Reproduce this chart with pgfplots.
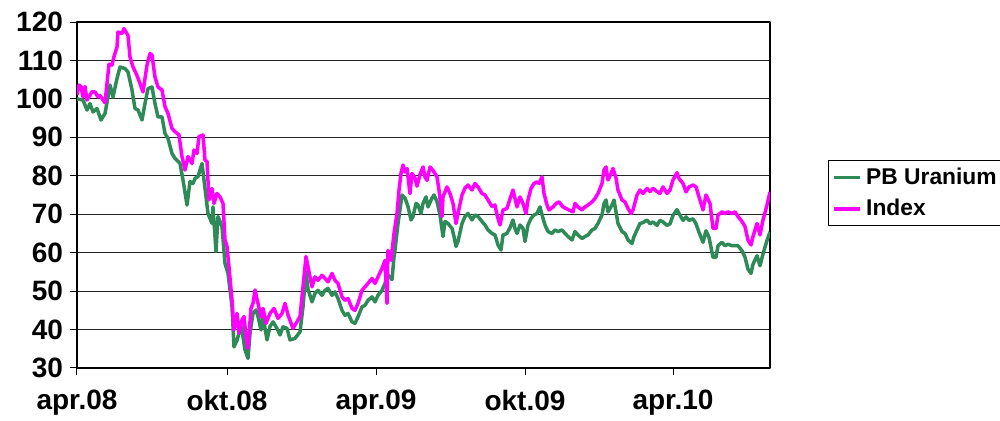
\documentclass[border=0pt]{standalone}
\usepackage{fontspec}
\setmainfont{Liberation Sans}
\usepackage{pgfplots}
\pgfplotsset{compat=1.18}
\definecolor{pbgreen}{RGB}{46,139,87}
\definecolor{idxmag}{RGB}{255,0,255}
\begin{document}
\begin{tikzpicture}[x=1pt,y=1pt]
\path[use as bounding box] (0,0) rectangle (500,210.5);
\begin{axis}[
  at={(38.5pt,26.5pt)}, anchor=south west,
  scale only axis, width=346.5pt, height=173pt,
  xmin=0, xmax=693, ymin=30, ymax=120,
  ytick={30,40,...,120},
  xtick={0,150,299,448,596},
  xticklabels={apr.08,okt.08,apr.09,okt.09,apr.10},
  xtick pos=left, ytick pos=left,
  tick align=outside, major tick length=3.5pt,
  tick style={black, line width=0.5pt},
  axis line style={black, line width=0.6pt},
  ymajorgrids, grid style={black!85, line width=0.5pt},
  ticklabel style={font=\bfseries\fontsize{14}{14}\selectfont},
  xticklabel style={yshift=-6.5pt, inner ysep=1pt},
  /pgf/number format/assume math mode=true,
  legend style={at={(1.084,0.601)}, anchor=north west, draw=black, line width=0.5pt,
    font=\bfseries\fontsize{11.4}{13}\selectfont, inner xsep=2pt, inner ysep=1.5pt, row sep=2pt,
    nodes={inner xsep=2pt}},
  legend cell align=left,
  legend image code/.code={\draw[#1] (0pt,0pt) -- (13pt,0pt);},
  line join=round,
]
\addplot[pbgreen, line width=1.75pt, mark=none] coordinates {
(0,100.0)(6,99.7)(10,97.1)(13,98.8)(16,96.6)(20,97.5)(24,94.5)(28,96.2)(31,100.5)(33,103.6)
(36,100.5)(40,105.3)(43,108.3)(48,107.9)(51,107.0)(55,102.3)(58,97.5)(61,97.1)(65,94.5)(68,98.8)
(71,102.7)(75,103.1)(78,98.8)(81,95.3)(85,95.3)(88,91.0)(91,89.7)(95,85.8)(98,84.5)(103,83.2)
(106,78.9)(110,72.4)(113,78.5)(116,78.0)(118,79.3)(121,79.8)(125,83.2)(128,76.7)(131,70.2)(135,67.6)
(136,71.9)(139,60.3)(141,69.4)(145,66.8)(148,57.2)(151,54.6)(155,46.0)(157,35.5)(160,37.2)(162,39.0)
(165,40.7)(166,38.1)(168,34.7)(171,32.5)(173,39.0)(176,44.2)(179,45.1)(181,43.4)(184,39.9)(186,43.4)
(190,37.3)(193,40.8)(196,42.0)(200,40.3)(203,38.6)(206,40.7)(210,40.3)(213,37.3)(218,37.7)(223,39.4)
(226,45.9)(229,55.0)(231,50.5)(235,47.2)(238,49.4)(241,50.2)(245,48.9)(248,50.2)(251,50.7)(255,48.9)
(258,49.8)(261,48.1)(265,45.0)(268,43.7)(271,44.2)(275,42.0)(278,41.6)(281,43.3)(285,45.9)(288,46.3)
(291,47.6)(295,48.5)(298,47.2)(301,48.9)(305,50.2)(308,52.0)(311,54.1)(315,53.0)(317,58.9)(318,60.7)
(321,67.6)(325,75.0)(328,74.2)(331,72.0)(334,68.5)(336,69.4)(339,72.8)(341,72.4)(344,70.2)(346,72.8)
(349,74.5)(351,71.9)(355,74.2)(357,75.0)(360,73.3)(363,69.8)(366,64.2)(368,68.1)(371,67.6)(375,66.3)
(377,64.2)(379,61.6)(381,62.9)(385,67.6)(388,69.4)(391,70.2)(395,68.5)(398,69.8)(401,69.4)(405,68.1)
(408,67.2)(411,65.9)(415,65.0)(418,64.6)(421,62.0)(424,60.7)(426,64.6)(430,65.0)(433,66.5)(436,68.5)
(438,66.3)(440,65.0)(443,67.2)(446,66.3)(448,62.9)(451,67.2)(454,68.9)(457,69.8)(460,70.2)(463,71.9)
(466,68.9)(468,67.2)(471,65.5)(475,65.0)(478,65.9)(481,65.5)(485,65.9)(488,65.0)(491,64.2)(495,63.3)
(498,65.5)(501,64.6)(505,63.7)(508,64.2)(511,64.6)(515,65.9)(518,66.3)(521,67.6)(525,69.8)(527,72.8)
(529,73.7)(531,70.6)(535,72.4)(537,73.7)(539,70.6)(541,67.6)(545,65.5)(548,65.0)(551,63.3)(555,62.4)
(557,64.2)(560,65.9)(563,67.6)(566,67.8)(570,68.5)(573,67.5)(576,68.0)(580,67.1)(583,68.4)(586,68.0)
(590,67.1)(593,67.5)(596,69.7)(600,71.2)(602,70.2)(606,68.4)(609,69.3)(612,68.4)(616,68.8)(619,67.5)
(622,65.3)(626,62.7)(629,65.7)(632,64.0)(636,58.8)(639,58.8)(641,61.8)(645,62.7)(648,61.8)(651,62.2)
(655,61.8)(658,61.8)(661,61.8)(665,60.5)(668,58.8)(671,55.7)(674,54.6)(676,57.0)(680,59.2)(683,56.6)
(686,59.7)(690,63.2)(693,65.4)
};
\addlegendentry{PB Uranium}
\addplot[idxmag, line width=1.75pt, mark=none] coordinates {
(0,101.0)(2,103.6)(4,103.2)(6,100.5)(8,103.2)(10,99.7)(15,101.8)(18,101.8)(21,100.5)(23,100.9)
(26,99.7)(28,99.0)(32,109.0)(35,108.8)(37,111.0)(40,113.5)(41,117.4)(45,117.0)(47,118.3)(51,116.5)
(53,110.9)(56,108.3)(60,106.1)(63,104.0)(66,101.8)(70,108.8)(73,111.8)(75,111.4)(78,105.7)(81,103.1)
(85,102.3)(88,98.0)(91,96.2)(95,92.3)(98,91.5)(102,90.6)(105,85.0)(108,81.5)(111,85.0)(115,83.2)
(117,86.7)(120,85.8)(122,90.2)(126,90.6)(128,84.1)(130,83.7)(132,73.7)(135,76.7)(137,72.8)(140,75.4)
(143,74.5)(146,72.8)(148,63.3)(150,61.6)(152,56.3)(155,47.7)(157,39.9)(160,44.2)(162,39.0)(165,42.5)
(167,43.4)(169,38.2)(171,35.1)(174,45.5)(176,46.8)(178,50.3)(181,46.8)(184,43.3)(186,45.5)(189,41.6)
(193,44.2)(197,45.5)(201,42.9)(205,44.2)(208,46.8)(211,43.8)(216,40.3)(220,42.0)(223,43.4)(226,51.1)
(229,59.0)(232,55.0)(235,51.1)(238,53.7)(241,52.8)(245,54.1)(248,53.3)(251,52.4)(255,54.6)(258,52.8)
(261,52.0)(265,48.5)(268,47.6)(271,48.1)(275,45.5)(278,45.0)(281,46.8)(285,50.2)(288,51.1)(291,52.0)
(295,53.3)(298,52.0)(301,53.7)(305,55.9)(308,58.0)(310,46.8)(311,60.6)(314,58.0)(317,65.0)(320,70.2)
(322,76.2)(324,80.6)(326,82.8)(328,81.0)(330,81.9)(333,75.4)(335,80.6)(338,79.4)(340,77.3)(343,80.3)
(346,82.3)(348,79.7)(350,78.8)(353,82.3)(356,81.4)(360,79.7)(362,76.3)(365,69.4)(366,74.5)(370,77.1)
(373,75.4)(376,72.8)(379,67.6)(381,70.2)(385,75.0)(388,76.8)(391,77.6)(395,76.3)(398,78.0)(401,77.1)
(405,75.4)(408,75.0)(411,73.7)(415,72.0)(418,72.4)(420,69.8)(423,67.2)(426,71.1)(430,71.5)(433,74.0)
(436,76.3)(438,74.1)(440,71.9)(443,74.5)(446,72.8)(449,70.2)(451,73.7)(454,76.7)(457,78.0)(460,78.4)
(462,78.0)(465,79.7)(467,75.4)(470,72.4)(472,71.1)(476,71.9)(479,72.8)(482,73.2)(486,71.9)(489,71.5)
(492,71.1)(496,70.6)(498,72.8)(501,71.9)(505,71.1)(508,71.9)(511,72.4)(515,73.2)(518,74.1)(521,75.4)
(525,78.0)(527,81.5)(529,82.3)(531,78.9)(534,80.6)(536,81.9)(539,79.4)(541,76.3)(545,73.7)(548,73.2)
(551,71.5)(554,70.2)(556,71.1)(560,75.0)(563,76.3)(566,75.4)(570,76.7)(573,75.9)(576,76.7)(580,75.9)
(583,75.4)(586,77.1)(590,75.4)(593,76.3)(596,78.9)(600,80.8)(602,79.3)(606,78.0)(609,75.8)(612,77.1)
(616,77.6)(619,77.1)(622,74.5)(626,71.1)(629,75.0)(633,72.8)(636,66.3)(639,66.3)(641,69.8)(645,70.6)
(648,70.2)(651,70.6)(655,70.2)(658,70.6)(661,69.4)(665,68.1)(668,66.8)(671,63.3)(674,62.0)(676,64.2)
(680,67.6)(683,64.6)(686,68.5)(690,72.4)(693,75.8)
};
\addlegendentry{Index}
\end{axis}
\end{tikzpicture}
\end{document}
